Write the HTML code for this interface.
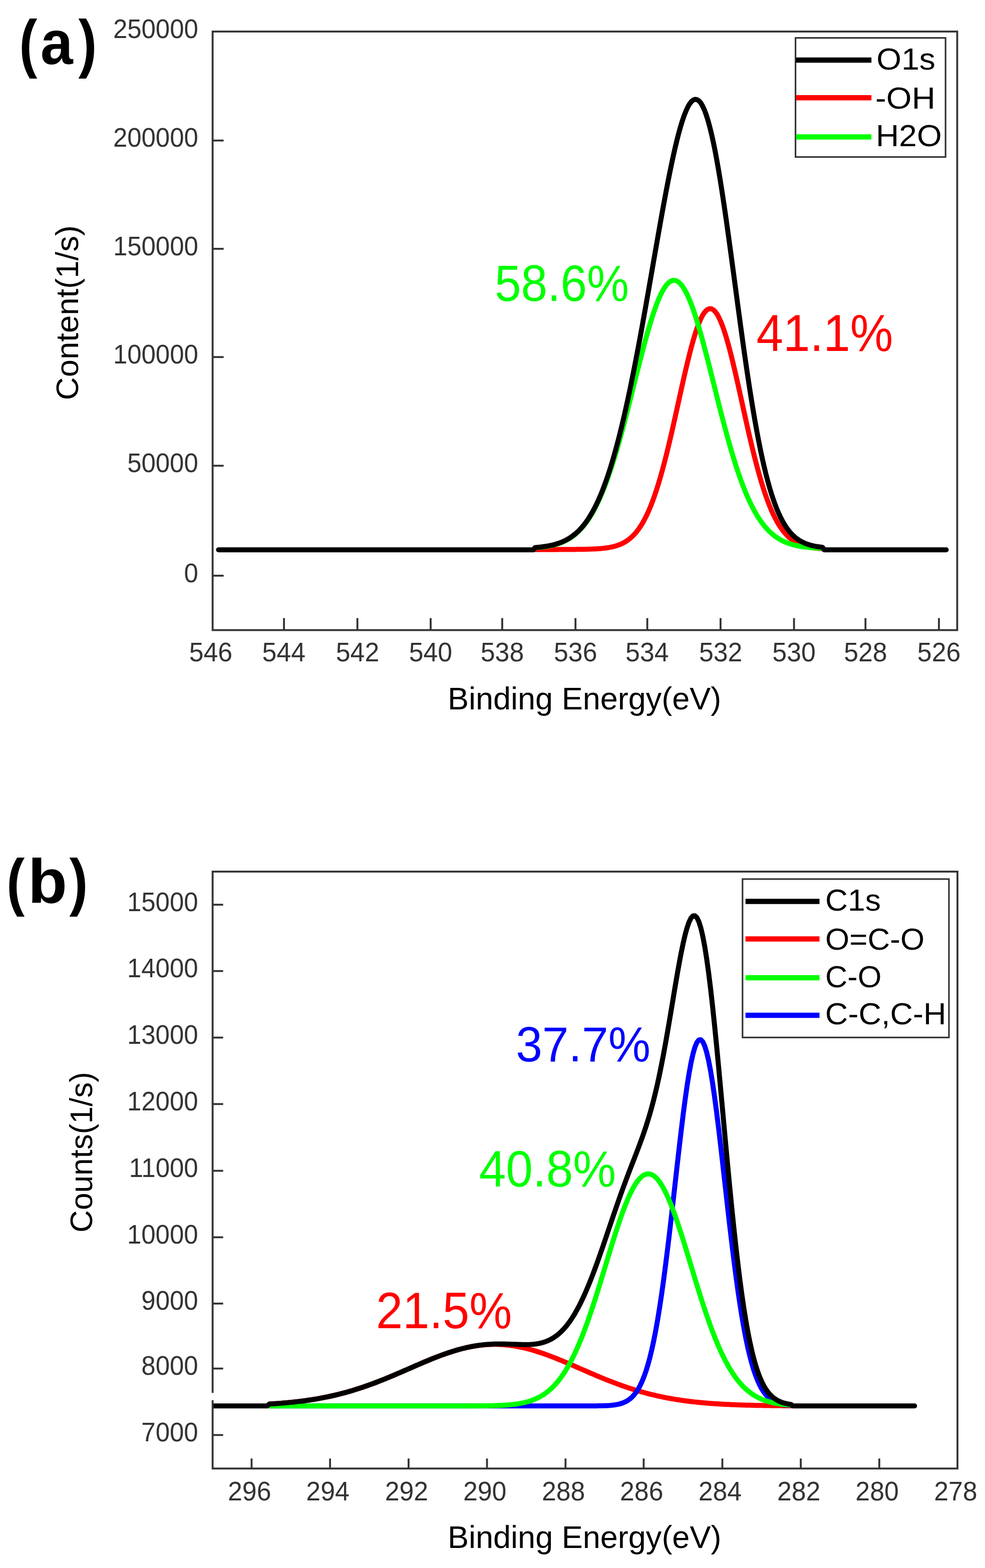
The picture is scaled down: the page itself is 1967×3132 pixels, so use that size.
<!DOCTYPE html>
<html><head><meta charset="utf-8"><title>XPS</title>
<style>html,body{margin:0;padding:0;background:#fff;}body{width:1967px;height:3132px;overflow:hidden;}svg{display:block;}</style>
</head><body>
<svg width="1967" height="3132" viewBox="0 0 1967 3132" font-family="'Liberation Sans', Arial, sans-serif">
<rect width="1967" height="3132" fill="#fff"/>
<clipPath id="clipa"><rect x="424.6" y="63" width="1486.9" height="1195.6"/></clipPath>
<g clip-path="url(#clipa)">
<polyline points="1068.45,1097.79 1072.09,1097.78 1075.72,1097.77 1079.35,1097.75 1082.99,1097.74 1086.62,1097.73 1090.25,1097.72 1093.88,1097.71 1097.52,1097.69 1101.15,1097.68 1104.78,1097.66 1108.42,1097.65 1112.05,1097.63 1115.68,1097.62 1119.32,1097.6 1122.95,1097.58 1126.58,1097.56 1130.21,1097.54 1133.85,1097.52 1137.48,1097.49 1141.11,1097.46 1144.75,1097.43 1148.38,1097.4 1152.01,1097.36 1155.65,1097.31 1159.28,1097.26 1162.91,1097.21 1166.54,1097.14 1170.18,1097.06 1173.81,1096.97 1177.44,1096.87 1181.08,1096.74 1184.71,1096.6 1188.34,1096.43 1191.98,1096.23 1195.61,1095.99 1199.24,1095.71 1202.87,1095.39 1206.51,1095.01 1210.14,1094.56 1213.77,1094.04 1217.41,1093.42 1221.04,1092.71 1224.67,1091.89 1228.31,1090.93 1231.94,1089.83 1235.57,1088.56 1239.2,1087.1 1242.84,1085.43 1246.47,1083.53 1250.1,1081.36 1253.74,1078.91 1257.37,1076.14 1261,1073.02 1264.64,1069.53 1268.27,1065.62 1271.9,1061.28 1275.53,1056.45 1279.17,1051.12 1282.8,1045.26 1286.43,1038.82 1290.07,1031.79 1293.7,1024.14 1297.33,1015.84 1300.97,1006.88 1304.6,997.25 1308.23,986.94 1311.86,975.94 1315.5,964.26 1319.13,951.92 1322.76,938.93 1326.4,925.31 1330.03,911.12 1333.66,896.39 1337.3,881.17 1340.93,865.54 1344.56,849.56 1348.19,833.32 1351.83,816.9 1355.46,800.4 1359.09,783.93 1362.73,767.6 1366.36,751.52 1369.99,735.81 1373.63,720.59 1377.26,705.98 1380.89,692.1 1384.52,679.07 1388.16,667.01 1391.79,656.03 1395.42,646.23 1399.06,637.69 1402.69,630.51 1406.32,624.75 1409.96,620.48 1413.59,617.73 1417.22,616.53 1420.85,616.9 1424.49,618.84 1428.12,622.31 1431.75,627.29 1435.39,633.73 1439.02,641.56 1442.65,650.71 1446.29,661.08 1449.92,672.59 1453.55,685.12 1457.18,698.56 1460.82,712.8 1464.45,727.71 1468.08,743.18 1471.72,759.08 1475.35,775.3 1478.98,791.71 1482.62,808.2 1486.25,824.67 1489.88,841.02 1493.51,857.15 1497.15,872.98 1500.78,888.42 1504.41,903.41 1508.05,917.9 1511.68,931.82 1515.31,945.15 1518.95,957.84 1522.58,969.87 1526.21,981.22 1529.84,991.9 1533.48,1001.89 1537.11,1011.2 1540.74,1019.84 1544.38,1027.83 1548.01,1035.19 1551.64,1041.93 1555.28,1048.1 1558.91,1053.71 1562.54,1058.79 1566.17,1063.39 1569.81,1067.52 1573.44,1071.23 1577.07,1074.54 1580.71,1077.49 1584.34,1080.11 1587.97,1082.42 1591.61,1084.46 1595.24,1086.25 1598.87,1087.81 1602.5,1089.18 1606.14,1090.37 1609.77,1091.4 1613.4,1092.29 1617.04,1093.06 1620.67,1093.73 1624.3,1094.29 1627.94,1094.78 1631.57,1095.19 1635.2,1095.55 1638.83,1095.85 1642.47,1096.11" fill="none" stroke="#ff0000" stroke-width="10" stroke-linejoin="round" stroke-linecap="round"/>
<polyline points="1068.45,1094.27 1072.09,1093.97 1075.72,1093.63 1079.35,1093.26 1082.99,1092.83 1086.62,1092.35 1090.25,1091.82 1093.88,1091.22 1097.52,1090.54 1101.15,1089.78 1104.78,1088.94 1108.42,1087.99 1112.05,1086.94 1115.68,1085.76 1119.32,1084.46 1122.95,1083.01 1126.58,1081.4 1130.21,1079.62 1133.85,1077.65 1137.48,1075.49 1141.11,1073.11 1144.75,1070.49 1148.38,1067.63 1152.01,1064.5 1155.65,1061.09 1159.28,1057.37 1162.91,1053.34 1166.54,1048.96 1170.18,1044.24 1173.81,1039.14 1177.44,1033.65 1181.08,1027.76 1184.71,1021.45 1188.34,1014.7 1191.98,1007.51 1195.61,999.87 1199.24,991.76 1202.87,983.19 1206.51,974.14 1210.14,964.61 1213.77,954.61 1217.41,944.15 1221.04,933.21 1224.67,921.83 1228.31,910.02 1231.94,897.78 1235.57,885.15 1239.2,872.16 1242.84,858.82 1246.47,845.18 1250.1,831.27 1253.74,817.14 1257.37,802.83 1261,788.38 1264.64,773.86 1268.27,759.32 1271.9,744.81 1275.53,730.41 1279.17,716.16 1282.8,702.13 1286.43,688.4 1290.07,675.03 1293.7,662.09 1297.33,649.64 1300.97,637.76 1304.6,626.5 1308.23,615.93 1311.86,606.12 1315.5,597.12 1319.13,588.99 1322.76,581.78 1326.4,575.53 1330.03,570.29 1333.66,566.08 1337.3,562.95 1340.93,560.9 1344.56,559.95 1348.19,560.11 1351.83,561.38 1355.46,563.75 1359.09,567.2 1362.73,571.71 1366.36,577.25 1369.99,583.78 1373.63,591.27 1377.26,599.66 1380.89,608.9 1384.52,618.93 1388.16,629.71 1391.79,641.15 1395.42,653.21 1399.06,665.81 1402.69,678.88 1406.32,692.37 1409.96,706.19 1413.59,720.28 1417.22,734.58 1420.85,749.03 1424.49,763.55 1428.12,778.09 1431.75,792.6 1435.39,807.01 1439.02,821.27 1442.65,835.34 1446.29,849.18 1449.92,862.73 1453.55,875.98 1457.18,888.87 1460.82,901.38 1464.45,913.5 1468.08,925.19 1471.72,936.44 1475.35,947.24 1478.98,957.57 1482.62,967.43 1486.25,976.82 1489.88,985.73 1493.51,994.17 1497.15,1002.14 1500.78,1009.65 1504.41,1016.71 1508.05,1023.33 1511.68,1029.51 1515.31,1035.29 1518.95,1040.66 1522.58,1045.65 1526.21,1050.27 1529.84,1054.54 1533.48,1058.48 1537.11,1062.11 1540.74,1065.44 1544.38,1068.49 1548.01,1071.28 1551.64,1073.82 1555.28,1076.14 1558.91,1078.25 1562.54,1080.15 1566.17,1081.88 1569.81,1083.44 1573.44,1084.85 1577.07,1086.12 1580.71,1087.26 1584.34,1088.28 1587.97,1089.19 1591.61,1090.01 1595.24,1090.74 1598.87,1091.4 1602.5,1091.98 1606.14,1092.5 1609.77,1092.96 1613.4,1093.37 1617.04,1093.73 1620.67,1094.06 1624.3,1094.35 1627.94,1094.6 1631.57,1094.83 1635.2,1095.03 1638.83,1095.21 1642.47,1095.38" fill="none" stroke="#00ff00" stroke-width="10" stroke-linejoin="round" stroke-linecap="round"/>
<polyline points="436.31,1098.3 439.95,1098.3 443.58,1098.3 447.21,1098.3 450.84,1098.3 454.48,1098.3 458.11,1098.3 461.74,1098.3 465.38,1098.3 469.01,1098.3 472.64,1098.3 476.27,1098.3 479.91,1098.3 483.54,1098.3 487.17,1098.3 490.81,1098.3 494.44,1098.3 498.07,1098.3 501.71,1098.3 505.34,1098.3 508.97,1098.3 512.6,1098.3 516.24,1098.3 519.87,1098.3 523.5,1098.3 527.14,1098.3 530.77,1098.3 534.4,1098.3 538.04,1098.3 541.67,1098.3 545.3,1098.3 548.93,1098.3 552.57,1098.3 556.2,1098.3 559.83,1098.3 563.47,1098.3 567.1,1098.3 570.73,1098.3 574.37,1098.3 578,1098.3 581.63,1098.3 585.26,1098.3 588.9,1098.3 592.53,1098.3 596.16,1098.3 599.8,1098.3 603.43,1098.3 607.06,1098.3 610.7,1098.3 614.33,1098.3 617.96,1098.3 621.59,1098.3 625.23,1098.3 628.86,1098.3 632.49,1098.3 636.13,1098.3 639.76,1098.3 643.39,1098.3 647.03,1098.3 650.66,1098.3 654.29,1098.3 657.92,1098.3 661.56,1098.3 665.19,1098.3 668.82,1098.3 672.46,1098.3 676.09,1098.3 679.72,1098.3 683.36,1098.3 686.99,1098.3 690.62,1098.3 694.25,1098.3 697.89,1098.3 701.52,1098.3 705.15,1098.3 708.79,1098.3 712.42,1098.3 716.05,1098.3 719.69,1098.3 723.32,1098.3 726.95,1098.3 730.58,1098.3 734.22,1098.3 737.85,1098.3 741.48,1098.3 745.12,1098.3 748.75,1098.3 752.38,1098.3 756.02,1098.3 759.65,1098.3 763.28,1098.3 766.91,1098.3 770.55,1098.3 774.18,1098.3 777.81,1098.3 781.45,1098.3 785.08,1098.3 788.71,1098.3 792.35,1098.3 795.98,1098.3 799.61,1098.3 803.24,1098.3 806.88,1098.3 810.51,1098.3 814.14,1098.3 817.78,1098.3 821.41,1098.3 825.04,1098.3 828.68,1098.3 832.31,1098.3 835.94,1098.3 839.57,1098.3 843.21,1098.3 846.84,1098.3 850.47,1098.3 854.11,1098.3 857.74,1098.3 861.37,1098.3 865.01,1098.3 868.64,1098.3 872.27,1098.3 875.9,1098.3 879.54,1098.3 883.17,1098.3 886.8,1098.3 890.44,1098.3 894.07,1098.3 897.7,1098.3 901.34,1098.3 904.97,1098.3 908.6,1098.3 912.23,1098.3 915.87,1098.3 919.5,1098.3 923.13,1098.3 926.77,1098.3 930.4,1098.3 934.03,1098.3 937.67,1098.3 941.3,1098.3 944.93,1098.3 948.56,1098.3 952.2,1098.3 955.83,1098.3 959.46,1098.3 963.1,1098.3 966.73,1098.3 970.36,1098.3 974,1098.3 977.63,1098.3 981.26,1098.3 984.89,1098.3 988.53,1098.3 992.16,1098.3 995.79,1098.3 999.43,1098.3 1003.06,1098.3 1006.69,1098.3 1010.33,1098.3 1013.96,1098.3 1017.59,1098.3 1021.22,1098.3 1024.86,1098.3 1028.49,1098.3 1032.12,1098.3 1035.76,1098.3 1039.39,1098.3 1043.02,1098.3 1046.66,1098.3 1050.29,1098.3 1053.92,1098.3 1057.55,1098.3 1061.19,1098.3 1064.82,1098.3 1068.45,1093.75 1072.09,1093.44 1075.72,1093.1 1079.35,1092.71 1082.99,1092.27 1086.62,1091.78 1090.25,1091.24 1093.88,1090.62 1097.52,1089.93 1101.15,1089.16 1104.78,1088.3 1108.42,1087.34 1112.05,1086.27 1115.68,1085.08 1119.32,1083.76 1122.95,1082.29 1126.58,1080.66 1130.21,1078.86 1133.85,1076.87 1137.48,1074.68 1141.11,1072.27 1144.75,1069.63 1148.38,1066.73 1152.01,1063.56 1155.65,1060.1 1159.28,1056.33 1162.91,1052.24 1166.54,1047.8 1170.18,1043 1173.81,1037.81 1177.44,1032.21 1181.08,1026.2 1184.71,1019.74 1188.34,1012.83 1191.98,1005.44 1195.61,997.56 1199.24,989.18 1202.87,980.28 1206.51,970.84 1210.14,960.87 1213.77,950.35 1217.41,939.27 1221.04,927.63 1224.67,915.42 1228.31,902.65 1231.94,889.31 1235.57,875.41 1239.2,860.96 1242.84,845.95 1246.47,830.41 1250.1,814.33 1253.74,797.75 1257.37,780.67 1261,763.11 1264.64,745.09 1268.27,726.64 1271.9,707.79 1275.53,688.56 1279.17,668.98 1282.8,649.09 1286.43,628.93 1290.07,608.52 1293.7,587.93 1297.33,567.18 1300.97,546.34 1304.6,525.45 1308.23,504.57 1311.86,483.76 1315.5,463.09 1319.13,442.61 1322.76,422.41 1326.4,402.55 1330.03,383.11 1333.66,364.17 1337.3,345.82 1340.93,328.14 1344.56,311.21 1348.19,295.13 1351.83,279.98 1355.46,265.85 1359.09,252.83 1362.73,241.01 1366.36,230.47 1369.99,221.29 1373.63,213.55 1377.26,207.33 1380.89,202.69 1384.52,199.71 1388.16,198.42 1391.79,198.88 1395.42,201.14 1399.06,205.2 1402.69,211.09 1406.32,218.82 1409.96,228.37 1413.59,239.71 1417.22,252.82 1420.85,267.63 1424.49,284.09 1428.12,302.1 1431.75,321.59 1435.39,342.44 1439.02,364.53 1442.65,387.75 1446.29,411.96 1449.92,437.02 1453.55,462.79 1457.18,489.13 1460.82,515.88 1464.45,542.91 1468.08,570.07 1471.72,597.22 1475.35,624.23 1478.98,650.98 1482.62,677.33 1486.25,703.19 1489.88,728.45 1493.51,753.02 1497.15,776.82 1500.78,799.77 1504.41,821.82 1508.05,842.92 1511.68,863.04 1515.31,882.13 1518.95,900.19 1522.58,917.22 1526.21,933.2 1529.84,948.14 1533.48,962.07 1537.11,975.01 1540.74,986.98 1544.38,998.02 1548.01,1008.17 1551.64,1017.46 1555.28,1025.94 1558.91,1033.65 1562.54,1040.65 1566.17,1046.97 1569.81,1052.67 1573.44,1057.78 1577.07,1062.36 1580.71,1066.45 1584.34,1070.09 1587.97,1073.31 1591.61,1076.17 1595.24,1078.69 1598.87,1080.91 1602.5,1082.86 1606.14,1084.57 1609.77,1086.06 1613.4,1087.36 1617.04,1088.5 1620.67,1089.48 1624.3,1090.34 1627.94,1091.08 1631.57,1091.72 1635.2,1092.28 1638.83,1092.76 1642.47,1093.18 1646.1,1098.3 1649.73,1098.3 1653.37,1098.3 1657,1098.3 1660.63,1098.3 1664.27,1098.3 1667.9,1098.3 1671.53,1098.3 1675.16,1098.3 1678.8,1098.3 1682.43,1098.3 1686.06,1098.3 1689.7,1098.3 1693.33,1098.3 1696.96,1098.3 1700.6,1098.3 1704.23,1098.3 1707.86,1098.3 1711.49,1098.3 1715.13,1098.3 1718.76,1098.3 1722.39,1098.3 1726.03,1098.3 1729.66,1098.3 1733.29,1098.3 1736.93,1098.3 1740.56,1098.3 1744.19,1098.3 1747.82,1098.3 1751.46,1098.3 1755.09,1098.3 1758.72,1098.3 1762.36,1098.3 1765.99,1098.3 1769.62,1098.3 1773.26,1098.3 1776.89,1098.3 1780.52,1098.3 1784.15,1098.3 1787.79,1098.3 1791.42,1098.3 1795.05,1098.3 1798.69,1098.3 1802.32,1098.3 1805.95,1098.3 1809.59,1098.3 1813.22,1098.3 1816.85,1098.3 1820.48,1098.3 1824.12,1098.3 1827.75,1098.3 1831.38,1098.3 1835.02,1098.3 1838.65,1098.3 1842.28,1098.3 1845.92,1098.3 1849.55,1098.3 1853.18,1098.3 1856.81,1098.3 1860.45,1098.3 1864.08,1098.3 1867.71,1098.3 1871.35,1098.3 1874.98,1098.3 1878.61,1098.3 1882.25,1098.3 1885.88,1098.3 1889.51,1098.3" fill="none" stroke="#000" stroke-width="10" stroke-linejoin="round" stroke-linecap="round"/>
</g>
<rect x="424.6" y="63" width="1486.9" height="1195.6" fill="none" stroke="#333" stroke-width="3.8"/>
<line x1="424.6" y1="280.7" x2="446.6" y2="280.7" stroke="#333" stroke-width="3.8" stroke-linecap="butt"/>
<line x1="424.6" y1="497" x2="446.6" y2="497" stroke="#333" stroke-width="3.8" stroke-linecap="butt"/>
<line x1="424.6" y1="713.2" x2="446.6" y2="713.2" stroke="#333" stroke-width="3.8" stroke-linecap="butt"/>
<line x1="424.6" y1="930.3" x2="446.6" y2="930.3" stroke="#333" stroke-width="3.8" stroke-linecap="butt"/>
<line x1="424.6" y1="1149.9" x2="446.6" y2="1149.9" stroke="#333" stroke-width="3.8" stroke-linecap="butt"/>
<line x1="567.1" y1="1258.6" x2="567.1" y2="1234.6" stroke="#333" stroke-width="3.8" stroke-linecap="butt"/>
<line x1="713.7" y1="1258.6" x2="713.7" y2="1234.6" stroke="#333" stroke-width="3.8" stroke-linecap="butt"/>
<line x1="860" y1="1258.6" x2="860" y2="1234.6" stroke="#333" stroke-width="3.8" stroke-linecap="butt"/>
<line x1="1002.9" y1="1258.6" x2="1002.9" y2="1234.6" stroke="#333" stroke-width="3.8" stroke-linecap="butt"/>
<line x1="1149.2" y1="1258.6" x2="1149.2" y2="1234.6" stroke="#333" stroke-width="3.8" stroke-linecap="butt"/>
<line x1="1292.6" y1="1258.6" x2="1292.6" y2="1234.6" stroke="#333" stroke-width="3.8" stroke-linecap="butt"/>
<line x1="1438.9" y1="1258.6" x2="1438.9" y2="1234.6" stroke="#333" stroke-width="3.8" stroke-linecap="butt"/>
<line x1="1585.6" y1="1258.6" x2="1585.6" y2="1234.6" stroke="#333" stroke-width="3.8" stroke-linecap="butt"/>
<line x1="1728.3" y1="1258.6" x2="1728.3" y2="1234.6" stroke="#333" stroke-width="3.8" stroke-linecap="butt"/>
<line x1="1875" y1="1258.6" x2="1875" y2="1234.6" stroke="#333" stroke-width="3.8" stroke-linecap="butt"/>
<rect x="1588.6" y="75.7" width="299.6" height="237.9" fill="#fff" stroke="#333" stroke-width="3.2"/>
<line x1="1589.6" y1="120" x2="1740.2" y2="120" stroke="#000" stroke-width="10.5" stroke-linecap="butt"/>
<line x1="1589.6" y1="195.3" x2="1740.2" y2="195.3" stroke="#ff0000" stroke-width="10.5" stroke-linecap="butt"/>
<line x1="1589.6" y1="273.4" x2="1740.2" y2="273.4" stroke="#00ff00" stroke-width="10.5" stroke-linecap="butt"/>
<text x="225.88" y="293.3" font-size="54" fill="#333" text-anchor="start" font-weight="normal" textLength="169.93" lengthAdjust="spacingAndGlyphs">200000</text>
<text x="225.88" y="509.6" font-size="54" fill="#333" text-anchor="start" font-weight="normal" textLength="169.93" lengthAdjust="spacingAndGlyphs">150000</text>
<text x="225.88" y="725.8" font-size="54" fill="#333" text-anchor="start" font-weight="normal" textLength="169.93" lengthAdjust="spacingAndGlyphs">100000</text>
<text x="254.15" y="942.9" font-size="54" fill="#333" text-anchor="start" font-weight="normal" textLength="141.61" lengthAdjust="spacingAndGlyphs">50000</text>
<text x="367.45" y="1162.5" font-size="54" fill="#333" text-anchor="start" font-weight="normal" textLength="28.32" lengthAdjust="spacingAndGlyphs">0</text>
<text x="225.88" y="75.6" font-size="54" fill="#333" text-anchor="start" font-weight="normal" textLength="169.93" lengthAdjust="spacingAndGlyphs">250000</text>
<text x="523.55" y="1321.3" font-size="54" fill="#333" text-anchor="start" font-weight="normal" textLength="86.5" lengthAdjust="spacingAndGlyphs">544</text>
<text x="670.74" y="1321.3" font-size="54" fill="#333" text-anchor="start" font-weight="normal" textLength="86.5" lengthAdjust="spacingAndGlyphs">542</text>
<text x="816.71" y="1321.3" font-size="54" fill="#333" text-anchor="start" font-weight="normal" textLength="86.5" lengthAdjust="spacingAndGlyphs">540</text>
<text x="959.74" y="1321.3" font-size="54" fill="#333" text-anchor="start" font-weight="normal" textLength="86.5" lengthAdjust="spacingAndGlyphs">538</text>
<text x="1106.04" y="1321.3" font-size="54" fill="#333" text-anchor="start" font-weight="normal" textLength="86.5" lengthAdjust="spacingAndGlyphs">536</text>
<text x="1249.05" y="1321.3" font-size="54" fill="#333" text-anchor="start" font-weight="normal" textLength="86.5" lengthAdjust="spacingAndGlyphs">534</text>
<text x="1395.94" y="1321.3" font-size="54" fill="#333" text-anchor="start" font-weight="normal" textLength="86.5" lengthAdjust="spacingAndGlyphs">532</text>
<text x="1542.31" y="1321.3" font-size="54" fill="#333" text-anchor="start" font-weight="normal" textLength="86.5" lengthAdjust="spacingAndGlyphs">530</text>
<text x="1685.14" y="1321.3" font-size="54" fill="#333" text-anchor="start" font-weight="normal" textLength="86.5" lengthAdjust="spacingAndGlyphs">528</text>
<text x="1831.84" y="1321.3" font-size="54" fill="#333" text-anchor="start" font-weight="normal" textLength="86.5" lengthAdjust="spacingAndGlyphs">526</text>
<text x="377.64" y="1321.3" font-size="54" fill="#333" text-anchor="start" font-weight="normal" textLength="86.5" lengthAdjust="spacingAndGlyphs">546</text>
<text x="1750.25" y="139.2" font-size="61.5" fill="#000" text-anchor="start" font-weight="normal" textLength="117.63" lengthAdjust="spacingAndGlyphs">O1s</text>
<text x="1748.06" y="217" font-size="61.5" fill="#000" text-anchor="start" font-weight="normal" textLength="119.77" lengthAdjust="spacingAndGlyphs">-OH</text>
<text x="1749.12" y="292.2" font-size="61.5" fill="#000" text-anchor="start" font-weight="normal" textLength="131.7" lengthAdjust="spacingAndGlyphs">H2O</text>
<text x="38.37" y="129.72" font-size="127.61" fill="#000" text-anchor="start" font-weight="bold" textLength="36.16" lengthAdjust="spacingAndGlyphs">(</text>
<text x="80.7" y="127.86" font-size="124.38" fill="#000" text-anchor="start" font-weight="bold" textLength="64.86" lengthAdjust="spacingAndGlyphs">a</text>
<text x="156.62" y="129.72" font-size="127.61" fill="#000" text-anchor="start" font-weight="bold" textLength="36.99" lengthAdjust="spacingAndGlyphs">)</text>
<text x="988.02" y="601.28" font-size="102.47" fill="#00ff00" text-anchor="start" font-weight="normal" textLength="268.04" lengthAdjust="spacingAndGlyphs">58.6%</text>
<text x="1510.43" y="700.98" font-size="104" fill="#ff0000" text-anchor="start" font-weight="normal" textLength="273.09" lengthAdjust="spacingAndGlyphs">41.1%</text>
<text x="894" y="1417.1" font-size="63" fill="#000" text-anchor="start" font-weight="normal" textLength="546.23" lengthAdjust="spacingAndGlyphs">Binding Energy(eV)</text>
<text x="-3.17" y="0" font-size="63" fill="#000" text-anchor="start" font-weight="normal" textLength="349.15" lengthAdjust="spacingAndGlyphs" transform="translate(156.4 796.0) rotate(-90)">Content(1/s)</text>
<clipPath id="clipb"><rect x="424.6" y="1741" width="1487.4" height="1192.3"/></clipPath>
<g clip-path="url(#clipb)">
<polyline points="537.65,2804.49 541.57,2804.25 545.49,2804 549.4,2803.74 553.32,2803.46 557.24,2803.17 561.16,2802.87 565.07,2802.55 568.99,2802.22 572.91,2801.87 576.82,2801.5 580.74,2801.12 584.66,2800.72 588.57,2800.3 592.49,2799.86 596.41,2799.4 600.33,2798.92 604.24,2798.42 608.16,2797.9 612.08,2797.36 615.99,2796.8 619.91,2796.21 623.83,2795.61 627.74,2794.97 631.66,2794.32 635.58,2793.64 639.5,2792.93 643.41,2792.2 647.33,2791.44 651.25,2790.66 655.16,2789.85 659.08,2789.01 663,2788.14 666.91,2787.25 670.83,2786.33 674.75,2785.38 678.67,2784.4 682.58,2783.39 686.5,2782.36 690.42,2781.3 694.33,2780.2 698.25,2779.08 702.17,2777.93 706.08,2776.75 710,2775.54 713.92,2774.31 717.84,2773.04 721.75,2771.75 725.67,2770.43 729.59,2769.09 733.5,2767.71 737.42,2766.31 741.34,2764.89 745.25,2763.44 749.17,2761.97 753.09,2760.47 757.01,2758.95 760.92,2757.41 764.84,2755.85 768.76,2754.27 772.67,2752.67 776.59,2751.06 780.51,2749.43 784.42,2747.78 788.34,2746.12 792.26,2744.45 796.18,2742.77 800.09,2741.08 804.01,2739.38 807.93,2737.68 811.84,2735.97 815.76,2734.26 819.68,2732.55 823.59,2730.84 827.51,2729.13 831.43,2727.43 835.35,2725.74 839.26,2724.05 843.18,2722.38 847.1,2720.72 851.01,2719.07 854.93,2717.44 858.85,2715.83 862.76,2714.24 866.68,2712.67 870.6,2711.13 874.52,2709.61 878.43,2708.13 882.35,2706.67 886.27,2705.25 890.18,2703.86 894.1,2702.51 898.02,2701.2 901.93,2699.93 905.85,2698.7 909.77,2697.52 913.69,2696.38 917.6,2695.29 921.52,2694.25 925.44,2693.26 929.35,2692.32 933.27,2691.44 937.19,2690.61 941.1,2689.84 945.02,2689.13 948.94,2688.47 952.86,2687.88 956.77,2687.34 960.69,2686.87 964.61,2686.46 968.52,2686.11 972.44,2685.83 976.36,2685.61 980.27,2685.45 984.19,2685.36 988.11,2685.33 992.03,2685.37 995.94,2685.47 999.86,2685.64 1003.78,2685.87 1007.69,2686.16 1011.61,2686.52 1015.53,2686.94 1019.44,2687.42 1023.36,2687.97 1027.28,2688.57 1031.2,2689.24 1035.11,2689.96 1039.03,2690.74 1042.95,2691.58 1046.86,2692.47 1050.78,2693.41 1054.7,2694.41 1058.61,2695.46 1062.53,2696.56 1066.45,2697.7 1070.37,2698.89 1074.28,2700.13 1078.2,2701.4 1082.12,2702.72 1086.03,2704.08 1089.95,2705.47 1093.87,2706.9 1097.78,2708.36 1101.7,2709.85 1105.62,2711.37 1109.54,2712.92 1113.45,2714.49 1117.37,2716.08 1121.29,2717.7 1125.2,2719.33 1129.12,2720.98 1133.04,2722.64 1136.95,2724.32 1140.87,2726.01 1144.79,2727.7 1148.71,2729.4 1152.62,2731.11 1156.54,2732.82 1160.46,2734.53 1164.37,2736.24 1168.29,2737.95 1172.21,2739.65 1176.12,2741.35 1180.04,2743.04 1183.96,2744.72 1187.88,2746.38 1191.79,2748.04 1195.71,2749.69 1199.63,2751.31 1203.54,2752.93 1207.46,2754.52 1211.38,2756.1 1215.29,2757.66 1219.21,2759.19 1223.13,2760.71 1227.05,2762.2 1230.96,2763.67 1234.88,2765.11 1238.8,2766.54 1242.71,2767.93 1246.63,2769.3 1250.55,2770.64 1254.46,2771.96 1258.38,2773.24 1262.3,2774.5 1266.22,2775.74 1270.13,2776.94 1274.05,2778.11 1277.97,2779.26 1281.88,2780.38 1285.8,2781.46 1289.72,2782.52 1293.63,2783.55 1297.55,2784.56 1301.47,2785.53 1305.39,2786.47 1309.3,2787.39 1313.22,2788.28 1317.14,2789.14 1321.05,2789.98 1324.97,2790.78 1328.89,2791.56 1332.8,2792.32 1336.72,2793.04 1340.64,2793.75 1344.56,2794.42 1348.47,2795.07 1352.39,2795.7 1356.31,2796.31 1360.22,2796.89 1364.14,2797.45 1368.06,2797.99 1371.97,2798.5 1375.89,2799 1379.81,2799.47 1383.73,2799.93 1387.64,2800.36 1391.56,2800.78 1395.48,2801.18 1399.39,2801.56 1403.31,2801.92 1407.23,2802.27 1411.14,2802.6 1415.06,2802.92 1418.98,2803.22 1422.9,2803.51 1426.81,2803.78 1430.73,2804.04 1434.65,2804.29 1438.56,2804.52 1442.48,2804.75 1446.4,2804.96 1450.31,2805.16 1454.23,2805.35 1458.15,2805.53 1462.07,2805.7 1465.98,2805.86 1469.9,2806.01 1473.82,2806.16 1477.73,2806.29 1481.65,2806.42 1485.57,2806.54 1489.48,2806.66 1493.4,2806.76 1497.32,2806.86 1501.24,2806.96 1505.15,2807.05 1509.07,2807.13 1512.99,2807.21 1516.9,2807.29 1520.82,2807.36 1524.74,2807.42 1528.65,2807.48 1532.57,2807.54 1536.49,2807.59 1540.41,2807.64 1544.32,2807.69 1548.24,2807.74 1552.16,2807.78 1556.07,2807.81 1559.99,2807.85 1563.91,2807.88 1567.82,2807.92 1571.74,2807.94 1575.66,2807.97 1579.58,2808" fill="none" stroke="#ff0000" stroke-width="10" stroke-linejoin="round" stroke-linecap="round"/>
<polyline points="537.65,2808.3 541.57,2808.3 545.49,2808.3 549.4,2808.3 553.32,2808.3 557.24,2808.3 561.16,2808.3 565.07,2808.3 568.99,2808.3 572.91,2808.3 576.82,2808.3 580.74,2808.3 584.66,2808.3 588.57,2808.3 592.49,2808.3 596.41,2808.3 600.33,2808.3 604.24,2808.3 608.16,2808.3 612.08,2808.3 615.99,2808.3 619.91,2808.3 623.83,2808.3 627.74,2808.3 631.66,2808.3 635.58,2808.3 639.5,2808.3 643.41,2808.3 647.33,2808.3 651.25,2808.3 655.16,2808.3 659.08,2808.3 663,2808.3 666.91,2808.3 670.83,2808.3 674.75,2808.3 678.67,2808.3 682.58,2808.3 686.5,2808.3 690.42,2808.3 694.33,2808.3 698.25,2808.3 702.17,2808.3 706.08,2808.3 710,2808.3 713.92,2808.3 717.84,2808.3 721.75,2808.3 725.67,2808.3 729.59,2808.3 733.5,2808.3 737.42,2808.3 741.34,2808.3 745.25,2808.3 749.17,2808.3 753.09,2808.3 757.01,2808.3 760.92,2808.3 764.84,2808.3 768.76,2808.3 772.67,2808.3 776.59,2808.3 780.51,2808.3 784.42,2808.3 788.34,2808.3 792.26,2808.3 796.18,2808.3 800.09,2808.3 804.01,2808.3 807.93,2808.3 811.84,2808.3 815.76,2808.3 819.68,2808.3 823.59,2808.3 827.51,2808.3 831.43,2808.3 835.35,2808.3 839.26,2808.3 843.18,2808.3 847.1,2808.3 851.01,2808.3 854.93,2808.3 858.85,2808.3 862.76,2808.3 866.68,2808.3 870.6,2808.3 874.52,2808.3 878.43,2808.3 882.35,2808.3 886.27,2808.3 890.18,2808.3 894.1,2808.3 898.02,2808.3 901.93,2808.3 905.85,2808.3 909.77,2808.3 913.69,2808.3 917.6,2808.3 921.52,2808.3 925.44,2808.3 929.35,2808.3 933.27,2808.3 937.19,2808.3 941.1,2808.3 945.02,2808.3 948.94,2808.3 952.86,2808.3 956.77,2808.3 960.69,2808.3 964.61,2808.3 968.52,2808.3 972.44,2808.3 976.36,2808.3 980.27,2808.3 984.19,2808.3 988.11,2808.3 992.03,2808.3 995.94,2808.3 999.86,2808.3 1003.78,2808.3 1007.69,2808.3 1011.61,2808.3 1015.53,2808.3 1019.44,2808.3 1023.36,2808.3 1027.28,2808.3 1031.2,2808.3 1035.11,2808.3 1039.03,2808.3 1042.95,2808.3 1046.86,2808.3 1050.78,2808.3 1054.7,2808.3 1058.61,2808.3 1062.53,2808.3 1066.45,2808.3 1070.37,2808.3 1074.28,2808.3 1078.2,2808.3 1082.12,2808.3 1086.03,2808.3 1089.95,2808.3 1093.87,2808.3 1097.78,2808.3 1101.7,2808.3 1105.62,2808.3 1109.54,2808.3 1113.45,2808.3 1117.37,2808.3 1121.29,2808.3 1125.2,2808.3 1129.12,2808.3 1133.04,2808.3 1136.95,2808.3 1140.87,2808.3 1144.79,2808.3 1148.71,2808.3 1152.62,2808.3 1156.54,2808.29 1160.46,2808.29 1164.37,2808.29 1168.29,2808.28 1172.21,2808.27 1176.12,2808.26 1180.04,2808.25 1183.96,2808.23 1187.88,2808.2 1191.79,2808.16 1195.71,2808.11 1199.63,2808.04 1203.54,2807.94 1207.46,2807.82 1211.38,2807.65 1215.29,2807.43 1219.21,2807.14 1223.13,2806.76 1227.05,2806.28 1230.96,2805.66 1234.88,2804.88 1238.8,2803.88 1242.71,2802.64 1246.63,2801.09 1250.55,2799.16 1254.46,2796.8 1258.38,2793.92 1262.3,2790.43 1266.22,2786.22 1270.13,2781.2 1274.05,2775.23 1277.97,2768.2 1281.88,2759.98 1285.8,2750.43 1289.72,2739.42 1293.63,2726.82 1297.55,2712.51 1301.47,2696.39 1305.39,2678.36 1309.3,2658.35 1313.22,2636.33 1317.14,2612.3 1321.05,2586.28 1324.97,2558.36 1328.89,2528.67 1332.8,2497.39 1336.72,2464.74 1340.64,2431 1344.56,2396.51 1348.47,2361.63 1352.39,2326.8 1356.31,2292.45 1360.22,2259.06 1364.14,2227.13 1368.06,2197.13 1371.97,2169.55 1375.89,2144.84 1379.81,2123.43 1383.73,2105.7 1387.64,2091.95 1391.56,2082.45 1395.48,2077.36 1399.39,2076.77 1403.31,2080.71 1407.23,2089.09 1411.14,2101.76 1415.06,2118.49 1418.98,2138.98 1422.9,2162.88 1426.81,2189.76 1430.73,2219.18 1434.65,2250.66 1438.56,2283.72 1442.48,2317.87 1446.4,2352.62 1450.31,2387.53 1454.23,2422.16 1458.15,2456.12 1462.07,2489.08 1465.98,2520.74 1469.9,2550.86 1473.82,2579.25 1477.73,2605.77 1481.65,2630.32 1485.57,2652.86 1489.48,2673.38 1493.4,2691.92 1497.32,2708.53 1501.24,2723.3 1505.15,2736.33 1509.07,2747.73 1512.99,2757.65 1516.9,2766.2 1520.82,2773.52 1524.74,2779.75 1528.65,2785.01 1532.57,2789.42 1536.49,2793.08 1540.41,2796.11 1544.32,2798.6 1548.24,2800.63 1552.16,2802.27 1556.07,2803.59 1559.99,2804.64 1563.91,2805.48 1567.82,2806.14 1571.74,2806.65 1575.66,2807.05 1579.58,2807.36" fill="none" stroke="#0000ff" stroke-width="10" stroke-linejoin="round" stroke-linecap="round"/>
<polyline points="537.65,2808.3 541.57,2808.3 545.49,2808.3 549.4,2808.3 553.32,2808.3 557.24,2808.3 561.16,2808.3 565.07,2808.3 568.99,2808.3 572.91,2808.3 576.82,2808.3 580.74,2808.3 584.66,2808.3 588.57,2808.3 592.49,2808.3 596.41,2808.3 600.33,2808.3 604.24,2808.3 608.16,2808.3 612.08,2808.3 615.99,2808.3 619.91,2808.3 623.83,2808.3 627.74,2808.3 631.66,2808.3 635.58,2808.3 639.5,2808.3 643.41,2808.3 647.33,2808.3 651.25,2808.3 655.16,2808.3 659.08,2808.3 663,2808.3 666.91,2808.3 670.83,2808.3 674.75,2808.3 678.67,2808.3 682.58,2808.3 686.5,2808.3 690.42,2808.3 694.33,2808.3 698.25,2808.3 702.17,2808.3 706.08,2808.3 710,2808.3 713.92,2808.3 717.84,2808.3 721.75,2808.3 725.67,2808.3 729.59,2808.3 733.5,2808.3 737.42,2808.3 741.34,2808.3 745.25,2808.3 749.17,2808.3 753.09,2808.3 757.01,2808.3 760.92,2808.3 764.84,2808.3 768.76,2808.3 772.67,2808.3 776.59,2808.3 780.51,2808.3 784.42,2808.3 788.34,2808.3 792.26,2808.3 796.18,2808.3 800.09,2808.3 804.01,2808.3 807.93,2808.3 811.84,2808.3 815.76,2808.3 819.68,2808.3 823.59,2808.3 827.51,2808.3 831.43,2808.3 835.35,2808.3 839.26,2808.3 843.18,2808.3 847.1,2808.3 851.01,2808.3 854.93,2808.3 858.85,2808.3 862.76,2808.3 866.68,2808.3 870.6,2808.3 874.52,2808.3 878.43,2808.3 882.35,2808.3 886.27,2808.3 890.18,2808.29 894.1,2808.29 898.02,2808.29 901.93,2808.29 905.85,2808.29 909.77,2808.28 913.69,2808.28 917.6,2808.27 921.52,2808.27 925.44,2808.26 929.35,2808.25 933.27,2808.24 937.19,2808.23 941.1,2808.22 945.02,2808.2 948.94,2808.18 952.86,2808.15 956.77,2808.12 960.69,2808.09 964.61,2808.05 968.52,2808 972.44,2807.94 976.36,2807.87 980.27,2807.79 984.19,2807.7 988.11,2807.59 992.03,2807.46 995.94,2807.31 999.86,2807.14 1003.78,2806.94 1007.69,2806.71 1011.61,2806.45 1015.53,2806.15 1019.44,2805.8 1023.36,2805.4 1027.28,2804.95 1031.2,2804.43 1035.11,2803.84 1039.03,2803.18 1042.95,2802.43 1046.86,2801.58 1050.78,2800.62 1054.7,2799.55 1058.61,2798.35 1062.53,2797.01 1066.45,2795.51 1070.37,2793.85 1074.28,2792 1078.2,2789.96 1082.12,2787.71 1086.03,2785.22 1089.95,2782.5 1093.87,2779.51 1097.78,2776.25 1101.7,2772.69 1105.62,2768.82 1109.54,2764.62 1113.45,2760.07 1117.37,2755.17 1121.29,2749.89 1125.2,2744.22 1129.12,2738.15 1133.04,2731.67 1136.95,2724.77 1140.87,2717.44 1144.79,2709.67 1148.71,2701.47 1152.62,2692.83 1156.54,2683.75 1160.46,2674.24 1164.37,2664.32 1168.29,2653.99 1172.21,2643.26 1176.12,2632.16 1180.04,2620.72 1183.96,2608.95 1187.88,2596.89 1191.79,2584.58 1195.71,2572.05 1199.63,2559.35 1203.54,2546.52 1207.46,2533.61 1211.38,2520.67 1215.29,2507.77 1219.21,2494.94 1223.13,2482.26 1227.05,2469.79 1230.96,2457.58 1234.88,2445.7 1238.8,2434.21 1242.71,2423.17 1246.63,2412.65 1250.55,2402.7 1254.46,2393.37 1258.38,2384.73 1262.3,2376.83 1266.22,2369.71 1270.13,2363.41 1274.05,2357.98 1277.97,2353.44 1281.88,2349.84 1285.8,2347.18 1289.72,2345.48 1293.63,2344.77 1297.55,2345.03 1301.47,2346.27 1305.39,2348.49 1309.3,2351.66 1313.22,2355.77 1317.14,2360.79 1321.05,2366.69 1324.97,2373.44 1328.89,2380.98 1332.8,2389.29 1336.72,2398.3 1340.64,2407.97 1344.56,2418.24 1348.47,2429.04 1352.39,2440.33 1356.31,2452.04 1360.22,2464.1 1364.14,2476.46 1368.06,2489.06 1371.97,2501.82 1375.89,2514.7 1379.81,2527.63 1383.73,2540.55 1387.64,2553.43 1391.56,2566.19 1395.48,2578.81 1399.39,2591.23 1403.31,2603.41 1407.23,2615.31 1411.14,2626.91 1415.06,2638.17 1418.98,2649.07 1422.9,2659.59 1426.81,2669.7 1430.73,2679.41 1434.65,2688.68 1438.56,2697.52 1442.48,2705.93 1446.4,2713.9 1450.31,2721.43 1454.23,2728.53 1458.15,2735.21 1462.07,2741.47 1465.98,2747.32 1469.9,2752.77 1473.82,2757.85 1477.73,2762.56 1481.65,2766.92 1485.57,2770.94 1489.48,2774.64 1493.4,2778.04 1497.32,2781.15 1501.24,2784 1505.15,2786.59 1509.07,2788.95 1512.99,2791.08 1516.9,2793.02 1520.82,2794.76 1524.74,2796.33 1528.65,2797.75 1532.57,2799.01 1536.49,2800.14 1540.41,2801.15 1544.32,2802.04 1548.24,2802.84 1552.16,2803.55 1556.07,2804.17 1559.99,2804.72 1563.91,2805.2 1567.82,2805.62 1571.74,2805.99 1575.66,2806.32 1579.58,2806.6" fill="none" stroke="#00ff00" stroke-width="10" stroke-linejoin="round" stroke-linecap="round"/>
<polyline points="424.06,2808.3 427.98,2808.3 431.89,2808.3 435.81,2808.3 439.73,2808.3 443.65,2808.3 447.56,2808.3 451.48,2808.3 455.4,2808.3 459.31,2808.3 463.23,2808.3 467.15,2808.3 471.06,2808.3 474.98,2808.3 478.9,2808.3 482.82,2808.3 486.73,2808.3 490.65,2808.3 494.57,2808.3 498.48,2808.3 502.4,2808.3 506.32,2808.3 510.23,2808.3 514.15,2808.3 518.07,2808.3 521.99,2808.3 525.9,2808.3 529.82,2808.3 533.74,2808.3 537.65,2804.49 541.57,2804.25 545.49,2804 549.4,2803.74 553.32,2803.46 557.24,2803.17 561.16,2802.87 565.07,2802.55 568.99,2802.22 572.91,2801.87 576.82,2801.5 580.74,2801.12 584.66,2800.72 588.57,2800.3 592.49,2799.86 596.41,2799.4 600.33,2798.92 604.24,2798.42 608.16,2797.9 612.08,2797.36 615.99,2796.8 619.91,2796.21 623.83,2795.61 627.74,2794.97 631.66,2794.32 635.58,2793.64 639.5,2792.93 643.41,2792.2 647.33,2791.44 651.25,2790.66 655.16,2789.85 659.08,2789.01 663,2788.14 666.91,2787.25 670.83,2786.33 674.75,2785.38 678.67,2784.4 682.58,2783.39 686.5,2782.36 690.42,2781.3 694.33,2780.2 698.25,2779.08 702.17,2777.93 706.08,2776.75 710,2775.54 713.92,2774.31 717.84,2773.04 721.75,2771.75 725.67,2770.43 729.59,2769.09 733.5,2767.71 737.42,2766.31 741.34,2764.89 745.25,2763.44 749.17,2761.97 753.09,2760.47 757.01,2758.95 760.92,2757.41 764.84,2755.85 768.76,2754.27 772.67,2752.67 776.59,2751.06 780.51,2749.43 784.42,2747.78 788.34,2746.12 792.26,2744.45 796.18,2742.77 800.09,2741.08 804.01,2739.38 807.93,2737.68 811.84,2735.97 815.76,2734.26 819.68,2732.55 823.59,2730.84 827.51,2729.13 831.43,2727.43 835.35,2725.74 839.26,2724.05 843.18,2722.38 847.1,2720.72 851.01,2719.07 854.93,2717.44 858.85,2715.83 862.76,2714.24 866.68,2712.67 870.6,2711.13 874.52,2709.61 878.43,2708.12 882.35,2706.67 886.27,2705.24 890.18,2703.86 894.1,2702.5 898.02,2701.19 901.93,2699.92 905.85,2698.69 909.77,2697.5 913.69,2696.36 917.6,2695.26 921.52,2694.22 925.44,2693.22 929.35,2692.28 933.27,2691.38 937.19,2690.54 941.1,2689.76 945.02,2689.03 948.94,2688.35 952.86,2687.73 956.77,2687.17 960.69,2686.66 964.61,2686.21 968.52,2685.81 972.44,2685.47 976.36,2685.18 980.27,2684.94 984.19,2684.76 988.11,2684.62 992.03,2684.53 995.94,2684.48 999.86,2684.48 1003.78,2684.51 1007.69,2684.58 1011.61,2684.67 1015.53,2684.79 1019.44,2684.92 1023.36,2685.07 1027.28,2685.22 1031.2,2685.37 1035.11,2685.5 1039.03,2685.62 1042.95,2685.7 1046.86,2685.74 1050.78,2685.73 1054.7,2685.66 1058.61,2685.51 1062.53,2685.26 1066.45,2684.91 1070.37,2684.44 1074.28,2683.83 1078.2,2683.06 1082.12,2682.13 1086.03,2681 1089.95,2679.67 1093.87,2678.11 1097.78,2676.31 1101.7,2674.24 1105.62,2671.88 1109.54,2669.23 1113.45,2666.26 1117.37,2662.95 1121.29,2659.28 1125.2,2655.25 1129.12,2650.83 1133.04,2646.01 1136.95,2640.79 1140.87,2635.14 1144.79,2629.07 1148.71,2622.57 1152.62,2615.63 1156.54,2608.26 1160.46,2600.47 1164.37,2592.25 1168.29,2583.61 1172.21,2574.58 1176.12,2565.17 1180.04,2555.4 1183.96,2545.29 1187.88,2534.88 1191.79,2524.18 1195.71,2513.25 1199.63,2502.1 1203.54,2490.79 1207.46,2479.35 1211.38,2467.82 1215.29,2456.25 1219.21,2444.67 1223.13,2433.13 1227.05,2421.67 1230.96,2410.31 1234.88,2399.09 1238.8,2388.03 1242.71,2377.14 1246.63,2366.43 1250.55,2355.9 1254.46,2345.53 1258.38,2335.3 1262.3,2325.16 1266.22,2315.07 1270.13,2304.95 1274.05,2294.72 1277.97,2284.31 1281.88,2273.59 1285.8,2262.47 1289.72,2250.83 1293.63,2238.54 1297.55,2225.5 1301.47,2211.59 1305.39,2196.72 1309.3,2180.8 1313.22,2163.78 1317.14,2145.63 1321.05,2126.35 1324.97,2105.98 1328.89,2084.62 1332.8,2062.39 1336.72,2039.48 1340.64,2016.11 1344.56,1992.57 1348.47,1969.15 1352.39,1946.23 1356.31,1924.2 1360.22,1903.46 1364.14,1884.44 1368.06,1867.57 1371.97,1853.27 1375.89,1841.93 1379.81,1833.93 1383.73,1829.58 1387.64,1829.14 1391.56,1832.82 1395.48,1840.74 1399.39,1852.96 1403.31,1869.44 1407.23,1890.07 1411.14,1914.67 1415.06,1942.98 1418.98,1974.67 1422.9,2009.37 1426.81,2046.64 1430.73,2086.02 1434.65,2127.03 1438.56,2169.17 1442.48,2211.95 1446.4,2254.88 1450.31,2297.52 1454.23,2339.43 1458.15,2380.26 1462.07,2419.65 1465.98,2457.32 1469.9,2493.05 1473.82,2526.66 1477.73,2558.02 1481.65,2587.05 1485.57,2613.74 1489.48,2638.08 1493.4,2660.12 1497.32,2679.94 1501.24,2697.65 1505.15,2713.36 1509.07,2727.21 1512.99,2739.34 1516.9,2749.9 1520.82,2759.04 1524.74,2766.91 1528.65,2773.64 1532.57,2779.37 1536.49,2784.22 1540.41,2788.31 1544.32,2791.74 1548.24,2794.6 1552.16,2796.99 1556.07,2798.97 1559.99,2800.61 1563.91,2801.96 1567.82,2803.07 1571.74,2803.99 1575.66,2804.74 1579.58,2805.35 1583.49,2808.3 1587.41,2808.3 1591.33,2808.3 1595.24,2808.3 1599.16,2808.3 1603.08,2808.3 1606.99,2808.3 1610.91,2808.3 1614.83,2808.3 1618.75,2808.3 1622.66,2808.3 1626.58,2808.3 1630.5,2808.3 1634.41,2808.3 1638.33,2808.3 1642.25,2808.3 1646.16,2808.3 1650.08,2808.3 1654,2808.3 1657.92,2808.3 1661.83,2808.3 1665.75,2808.3 1669.67,2808.3 1673.58,2808.3 1677.5,2808.3 1681.42,2808.3 1685.33,2808.3 1689.25,2808.3 1693.17,2808.3 1697.09,2808.3 1701,2808.3 1704.92,2808.3 1708.84,2808.3 1712.75,2808.3 1716.67,2808.3 1720.59,2808.3 1724.5,2808.3 1728.42,2808.3 1732.34,2808.3 1736.26,2808.3 1740.17,2808.3 1744.09,2808.3 1748.01,2808.3 1751.92,2808.3 1755.84,2808.3 1759.76,2808.3 1763.67,2808.3 1767.59,2808.3 1771.51,2808.3 1775.43,2808.3 1779.34,2808.3 1783.26,2808.3 1787.18,2808.3 1791.09,2808.3 1795.01,2808.3 1798.93,2808.3 1802.84,2808.3 1806.76,2808.3 1810.68,2808.3 1814.6,2808.3 1818.51,2808.3 1822.43,2808.3 1826.35,2808.3" fill="none" stroke="#000" stroke-width="10" stroke-linejoin="round" stroke-linecap="round"/>
</g>
<rect x="424.6" y="1741" width="1487.4" height="1192.3" fill="none" stroke="#333" stroke-width="3.8"/>
<line x1="424.6" y1="1807.1" x2="445.6" y2="1807.1" stroke="#333" stroke-width="3.8" stroke-linecap="butt"/>
<line x1="424.6" y1="1939.6" x2="445.6" y2="1939.6" stroke="#333" stroke-width="3.8" stroke-linecap="butt"/>
<line x1="424.6" y1="2072.5" x2="445.6" y2="2072.5" stroke="#333" stroke-width="3.8" stroke-linecap="butt"/>
<line x1="424.6" y1="2205.3" x2="445.6" y2="2205.3" stroke="#333" stroke-width="3.8" stroke-linecap="butt"/>
<line x1="424.6" y1="2338.6" x2="445.6" y2="2338.6" stroke="#333" stroke-width="3.8" stroke-linecap="butt"/>
<line x1="424.6" y1="2471.4" x2="445.6" y2="2471.4" stroke="#333" stroke-width="3.8" stroke-linecap="butt"/>
<line x1="424.6" y1="2603.8" x2="445.6" y2="2603.8" stroke="#333" stroke-width="3.8" stroke-linecap="butt"/>
<line x1="424.6" y1="2733.6" x2="445.6" y2="2733.6" stroke="#333" stroke-width="3.8" stroke-linecap="butt"/>
<line x1="424.6" y1="2866.4" x2="445.6" y2="2866.4" stroke="#333" stroke-width="3.8" stroke-linecap="butt"/>
<line x1="502.4" y1="2933.3" x2="502.4" y2="2913.3" stroke="#333" stroke-width="3.8" stroke-linecap="butt"/>
<line x1="659.1" y1="2933.3" x2="659.1" y2="2913.3" stroke="#333" stroke-width="3.8" stroke-linecap="butt"/>
<line x1="815.9" y1="2933.3" x2="815.9" y2="2913.3" stroke="#333" stroke-width="3.8" stroke-linecap="butt"/>
<line x1="972.5" y1="2933.3" x2="972.5" y2="2913.3" stroke="#333" stroke-width="3.8" stroke-linecap="butt"/>
<line x1="1129.3" y1="2933.3" x2="1129.3" y2="2913.3" stroke="#333" stroke-width="3.8" stroke-linecap="butt"/>
<line x1="1285.4" y1="2933.3" x2="1285.4" y2="2913.3" stroke="#333" stroke-width="3.8" stroke-linecap="butt"/>
<line x1="1442.5" y1="2933.3" x2="1442.5" y2="2913.3" stroke="#333" stroke-width="3.8" stroke-linecap="butt"/>
<line x1="1599.1" y1="2933.3" x2="1599.1" y2="2913.3" stroke="#333" stroke-width="3.8" stroke-linecap="butt"/>
<line x1="1755.9" y1="2933.3" x2="1755.9" y2="2913.3" stroke="#333" stroke-width="3.8" stroke-linecap="butt"/>
<rect x="1482.8" y="1755.9" width="412.2" height="316.4" fill="#fff" stroke="#333" stroke-width="3.2"/>
<line x1="1488.7" y1="1800.6" x2="1636.5" y2="1800.6" stroke="#000" stroke-width="10.5" stroke-linecap="butt"/>
<line x1="1488.7" y1="1875.4" x2="1636.5" y2="1875.4" stroke="#ff0000" stroke-width="10.5" stroke-linecap="butt"/>
<line x1="1488.7" y1="1953" x2="1636.5" y2="1953" stroke="#00ff00" stroke-width="10.5" stroke-linecap="butt"/>
<line x1="1488.7" y1="2028.1" x2="1636.5" y2="2028.1" stroke="#0000ff" stroke-width="10.5" stroke-linecap="butt"/>
<text x="253.95" y="1819.7" font-size="54" fill="#333" text-anchor="start" font-weight="normal" textLength="141.61" lengthAdjust="spacingAndGlyphs">15000</text>
<text x="253.95" y="1952.2" font-size="54" fill="#333" text-anchor="start" font-weight="normal" textLength="141.61" lengthAdjust="spacingAndGlyphs">14000</text>
<text x="253.95" y="2085.1" font-size="54" fill="#333" text-anchor="start" font-weight="normal" textLength="141.61" lengthAdjust="spacingAndGlyphs">13000</text>
<text x="253.95" y="2217.9" font-size="54" fill="#333" text-anchor="start" font-weight="normal" textLength="141.61" lengthAdjust="spacingAndGlyphs">12000</text>
<text x="257.77" y="2351.2" font-size="54" fill="#333" text-anchor="start" font-weight="normal" textLength="137.83" lengthAdjust="spacingAndGlyphs">11000</text>
<text x="253.95" y="2484" font-size="54" fill="#333" text-anchor="start" font-weight="normal" textLength="141.61" lengthAdjust="spacingAndGlyphs">10000</text>
<text x="282.34" y="2616.4" font-size="54" fill="#333" text-anchor="start" font-weight="normal" textLength="113.29" lengthAdjust="spacingAndGlyphs">9000</text>
<text x="282.34" y="2746.2" font-size="54" fill="#333" text-anchor="start" font-weight="normal" textLength="113.29" lengthAdjust="spacingAndGlyphs">8000</text>
<text x="282.34" y="2879" font-size="54" fill="#333" text-anchor="start" font-weight="normal" textLength="113.29" lengthAdjust="spacingAndGlyphs">7000</text>
<text x="454.98" y="2997.4" font-size="54" fill="#333" text-anchor="start" font-weight="normal" textLength="86.5" lengthAdjust="spacingAndGlyphs">296</text>
<text x="611.3" y="2997.4" font-size="54" fill="#333" text-anchor="start" font-weight="normal" textLength="86.5" lengthAdjust="spacingAndGlyphs">294</text>
<text x="768.68" y="2997.4" font-size="54" fill="#333" text-anchor="start" font-weight="normal" textLength="86.5" lengthAdjust="spacingAndGlyphs">292</text>
<text x="924.95" y="2997.4" font-size="54" fill="#333" text-anchor="start" font-weight="normal" textLength="86.5" lengthAdjust="spacingAndGlyphs">290</text>
<text x="1081.88" y="2997.4" font-size="54" fill="#333" text-anchor="start" font-weight="normal" textLength="86.5" lengthAdjust="spacingAndGlyphs">288</text>
<text x="1237.98" y="2997.4" font-size="54" fill="#333" text-anchor="start" font-weight="normal" textLength="86.5" lengthAdjust="spacingAndGlyphs">286</text>
<text x="1394.7" y="2997.4" font-size="54" fill="#333" text-anchor="start" font-weight="normal" textLength="86.5" lengthAdjust="spacingAndGlyphs">284</text>
<text x="1551.88" y="2997.4" font-size="54" fill="#333" text-anchor="start" font-weight="normal" textLength="86.5" lengthAdjust="spacingAndGlyphs">282</text>
<text x="1708.35" y="2997.4" font-size="54" fill="#333" text-anchor="start" font-weight="normal" textLength="86.5" lengthAdjust="spacingAndGlyphs">280</text>
<text x="1865.18" y="2997.4" font-size="54" fill="#333" text-anchor="start" font-weight="normal" textLength="86.5" lengthAdjust="spacingAndGlyphs">278</text>
<text x="1647.88" y="1818.6" font-size="61.5" fill="#000" text-anchor="start" font-weight="normal" textLength="110.96" lengthAdjust="spacingAndGlyphs">C1s</text>
<text x="1648.05" y="1896.7" font-size="61.5" fill="#000" text-anchor="start" font-weight="normal" textLength="198.19" lengthAdjust="spacingAndGlyphs">O=C-O</text>
<text x="1647.93" y="1971.9" font-size="61.5" fill="#000" text-anchor="start" font-weight="normal" textLength="112.52" lengthAdjust="spacingAndGlyphs">C-O</text>
<text x="1647.85" y="2046.4" font-size="61.5" fill="#000" text-anchor="start" font-weight="normal" textLength="241.77" lengthAdjust="spacingAndGlyphs">C-C,C-H</text>
<text x="13.05" y="1805.25" font-size="126.97" fill="#000" text-anchor="start" font-weight="bold" textLength="36.27" lengthAdjust="spacingAndGlyphs">(</text>
<text x="55.86" y="1803.26" font-size="124.22" fill="#000" text-anchor="start" font-weight="bold" textLength="78.38" lengthAdjust="spacingAndGlyphs">b</text>
<text x="138.62" y="1805.25" font-size="126.97" fill="#000" text-anchor="start" font-weight="bold" textLength="36.99" lengthAdjust="spacingAndGlyphs">)</text>
<text x="1030.14" y="2120.32" font-size="98.23" fill="#0000ff" text-anchor="start" font-weight="normal" textLength="268.83" lengthAdjust="spacingAndGlyphs">37.7%</text>
<text x="956.63" y="2370.28" font-size="102.47" fill="#00ff00" text-anchor="start" font-weight="normal" textLength="273.5" lengthAdjust="spacingAndGlyphs">40.8%</text>
<text x="751.12" y="2653.18" font-size="102.33" fill="#ff0000" text-anchor="start" font-weight="normal" textLength="271.08" lengthAdjust="spacingAndGlyphs">21.5%</text>
<text x="894" y="3092.3" font-size="63" fill="#000" text-anchor="start" font-weight="normal" textLength="546.44" lengthAdjust="spacingAndGlyphs">Binding Energy(eV)</text>
<text x="-3.1" y="0" font-size="63" fill="#000" text-anchor="start" font-weight="normal" textLength="320.95" lengthAdjust="spacingAndGlyphs" transform="translate(183.9 2458.8) rotate(-90)">Counts(1/s)</text>
<rect x="420" y="2782.3" width="9" height="14.6" fill="#fff"/>
</svg>
</body></html>
